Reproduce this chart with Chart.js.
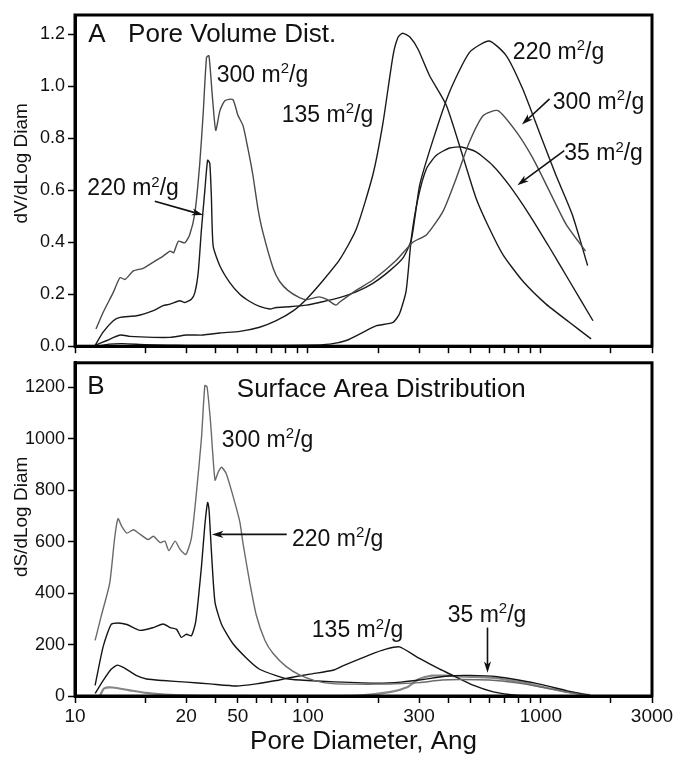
<!DOCTYPE html>
<html>
<head>
<meta charset="utf-8">
<script src="https://cdn.jsdelivr.net/npm/chart.js@4.4.1/dist/chart.umd.min.js"></script>
<style>
  body { margin: 0; background: #fff; }
  #wrap { position: relative; width: 676px; height: 759px; }
  #cA { position: absolute; left: 0; top: 0; }
  #cB { position: absolute; left: 0; top: 349px; }
</style>
</head>
<body>
<div id="wrap">
  <canvas id="cA" width="676" height="360"></canvas>
  <canvas id="cB" width="676" height="410"></canvas>
</div>
<script>
const FONT = '"Liberation Sans", Arial, Helvetica, sans-serif';

// x axis: labelled ticks (as printed) and the rest of the log ticks
const xTickVals = [10, 30, 50, 100, 300, 1000, 3000];
const xTickText = ['10', '20', '50', '100', '300', '1000', '3000'];
const xAllTicks = [10, 20, 30, 40, 50, 60, 70, 80, 90, 100, 200, 300, 400, 500, 600, 700, 800, 900, 1000, 2000, 3000];
const yTicksA = [0, 0.2, 0.4, 0.6, 0.8, 1.0, 1.2];
const yTicksB = [0, 200, 400, 600, 800, 1000, 1200];

// ---- A: pore volume, dV/dLog Diam ----
const vol300X = [12.3, 13.2, 14.6, 15.6, 16.4, 17.8, 19.6, 21.7, 23.9, 25.6, 26.5, 27.8, 29.6, 31.1, 32.7, 34.3, 35.5, 36.7, 37.6, 38.9, 40.2, 41.9, 44.0, 47.6, 50.0, 52.6, 55.0, 58.0, 61.0, 64.0, 70.9, 75.5, 82.0, 92.0, 98.5, 105, 112, 120, 132, 137, 161, 190, 239, 282, 323, 380, 433, 494, 566, 654, 785, 925, 1091, 1286, 1555];
const vol300Y = [0.066, 0.13, 0.207, 0.264, 0.257, 0.29, 0.30, 0.324, 0.347, 0.366, 0.36, 0.404, 0.398, 0.43, 0.512, 0.70, 0.895, 1.112, 1.118, 0.959, 0.831, 0.907, 0.945, 0.95, 0.89, 0.85, 0.77, 0.66, 0.53, 0.44, 0.30, 0.25, 0.215, 0.187, 0.179, 0.185, 0.19, 0.181, 0.158, 0.17, 0.215, 0.255, 0.33, 0.40, 0.429, 0.519, 0.646, 0.787, 0.888, 0.907, 0.825, 0.723, 0.595, 0.468, 0.366];

const vol220X = [12.2, 13.2, 14.6, 15.6, 18.4, 21.7, 23.9, 25.6, 28.2, 29.6, 31.6, 32.7, 33.8, 34.9, 36.1, 37.1, 37.9, 38.5, 39.2, 41.9, 46.2, 51, 56.3, 62, 68.6, 73.1, 83.3, 98.5, 115.6, 136.6, 161, 190, 224, 256, 278, 302, 346, 405, 494, 600, 711, 836, 984, 1160, 1365, 1588];
const vol220Y = [0.003, 0.054, 0.098, 0.111, 0.117, 0.137, 0.156, 0.162, 0.175, 0.168, 0.181, 0.206, 0.283, 0.449, 0.601, 0.716, 0.704, 0.576, 0.385, 0.309, 0.245, 0.200, 0.172, 0.153, 0.143, 0.149, 0.152, 0.158, 0.171, 0.187, 0.209, 0.242, 0.29, 0.34, 0.41, 0.621, 0.80, 0.978, 1.131, 1.175, 1.118, 0.99, 0.825, 0.659, 0.506, 0.31];

const vol135X = [12.2, 13.7, 15.6, 17.2, 21.7, 25.6, 30.1, 35.5, 41.9, 51, 62, 73.1, 86.7, 98.5, 115.6, 137, 161, 190, 210, 232, 244, 255, 274, 297, 333, 393, 461, 527, 600, 687, 836, 1053, 1326, 1643];
const vol135Y = [0.003, 0.022, 0.043, 0.038, 0.034, 0.034, 0.043, 0.043, 0.051, 0.057, 0.073, 0.098, 0.137, 0.181, 0.251, 0.334, 0.449, 0.66, 0.86, 1.12, 1.19, 1.205, 1.19, 1.143, 1.041, 0.927, 0.735, 0.57, 0.455, 0.353, 0.251, 0.162, 0.092, 0.028];

const vol35X = [12.5, 14, 16, 20, 25, 30, 40, 60, 98.5, 124, 146, 178, 197, 232, 247, 264, 278, 297, 323, 356, 405, 456, 527, 620, 731, 893, 1091, 1326, 1674];
const vol35Y = [0.0, 0.008, 0.01, 0.006, 0.004, 0.003, 0.003, 0.003, 0.004, 0.008, 0.022, 0.06, 0.079, 0.092, 0.124, 0.213, 0.417, 0.57, 0.684, 0.735, 0.763, 0.767, 0.748, 0.697, 0.62, 0.506, 0.379, 0.251, 0.098];

// ---- B: surface area, dS/dLog Diam ----
const surf300X = [12.2, 13.0, 14.1, 14.8, 15.3, 15.9, 16.7, 17.8, 19.0, 20.6, 21.7, 23.2, 24.3, 25.3, 26.9, 28.2, 29.9, 31.6, 33.2, 34.9, 36.1, 36.9, 38.2, 39.9, 41.2, 42.6, 44.6, 47.7, 51, 52.7, 56.3, 60, 65.4, 70.9, 80.5, 92, 107, 128, 160, 200, 250, 300, 376, 450, 600, 800, 1000, 1300, 1650];
const surf300Y = [216, 315, 440, 614, 689, 658, 633, 646, 629, 608, 621, 596, 602, 565, 602, 571, 550, 614, 789, 1001, 1207, 1201, 1063, 839, 870, 889, 864, 777, 677, 590, 440, 315, 216, 165, 115, 82, 60, 48, 46, 46, 48, 52, 62, 64, 62, 50, 35, 15, 0];

const surf220X = [12.2, 13.2, 14.3, 15.3, 16.7, 19.0, 21.7, 23.9, 25.6, 27.3, 28.6, 30.1, 31.6, 33.0, 34.9, 36.1, 37.1, 37.6, 38.5, 39.9, 42.6, 47.7, 54.5, 62, 73.1, 82.3, 100, 130, 200, 250, 300, 400, 500, 650, 800, 1000, 1300, 1650];
const surf220Y = [41, 191, 278, 284, 278, 255, 266, 280, 266, 259, 228, 240, 234, 290, 502, 665, 752, 727, 565, 365, 278, 203, 147, 104, 79, 66, 60, 55, 50, 54, 62, 78, 80, 75, 62, 45, 20, 0];

const surf135X = [12.2, 13.2, 14.3, 15.2, 16.2, 18.4, 20.3, 23.9, 30.1, 37.9, 49.3, 60, 73.1, 82.3, 102, 128, 142, 184, 216, 247, 300, 368, 421, 515, 625, 761, 1000];
const surf135Y = [10, 60, 104, 120, 110, 79, 66, 60, 54, 47, 39, 47, 60, 70, 85, 100, 118, 160, 182, 191, 147, 104, 79, 41, 16, 4, 0];

const surf35X = [12.8, 13.3, 14.5, 17.2, 20.3, 25.6, 35, 60, 100, 165, 227, 268, 300, 341, 389, 475, 625, 814, 1017, 1286, 1630];
const surf35Y = [0, 29, 33, 22, 12, 4, 1, 0, 0, 2, 16, 35, 66, 79, 79, 75, 70, 54, 35, 16, 4];

const pts = (xs, ys) => xs.map((v, i) => ({x: v, y: ys[i]}));
const line = (xs, ys, color, w) => ({
  data: pts(xs, ys), borderColor: color, borderWidth: w,
  pointRadius: 0, showLine: true, tension: 0.2, fill: false
});

function xScale(labels) {
  return {
    type: 'logarithmic', min: 10, max: 3000,
    afterBuildTicks: s => { s.ticks = xAllTicks.map(v => ({value: v})); },
    afterFit: s => { s.height = labels ? 63 : 11; },
    ticks: {
      autoSkip: false, maxRotation: 0, padding: 2, color: '#111',
      font: {size: 19, family: FONT},
      callback: v => {
        if (!labels) return '';
        const i = xTickVals.indexOf(v);
        return i < 0 ? '' : xTickText[i];
      }
    },
    grid: { drawOnChartArea: false, tickLength: 7, tickColor: '#000', tickWidth: 1.5 },
    border: { color: '#000', width: 3 },
    title: labels
      ? { display: true, text: 'Pore Diameter, Ang', color: '#111', font: {size: 26, family: FONT}, padding: {top: 0, bottom: 2} }
      : { display: false }
  };
}

function yScale(max, ticks, fmt) {
  return {
    min: 0, max,
    afterBuildTicks: s => { s.ticks = ticks.map(v => ({value: v})); },
    afterFit: s => { s.width = 75; },
    ticks: { padding: 3, color: '#111', font: {size: 18, family: FONT}, callback: fmt },
    grid: { drawOnChartArea: false, tickLength: 7, tickColor: '#000', tickWidth: 1.5 },
    border: { color: '#000', width: 3 }
  };
}

// frame, panel titles, curve labels with m²/g, arrows, y title
function panelPlugin(notes, arrows, ytitle) {
  return {
    id: 'panel',
    afterDraw(ch) {
      const {ctx, chartArea: a, scales: {x, y}} = ch;
      ctx.save();
      ctx.strokeStyle = '#000'; ctx.lineWidth = 3;
      ctx.strokeRect(a.left, a.top, a.right - a.left, a.bottom - a.top);

      ctx.fillStyle = '#111'; ctx.textAlign = 'left'; ctx.textBaseline = 'alphabetic';
      notes.forEach(n => {
        let px = x.getPixelForValue(n.x);
        const py = y.getPixelForValue(n.y);
        ctx.font = `${n.size}px ${FONT}`;
        if (n.unit) {
          const t1 = n.text + ' m';
          ctx.fillText(t1, px, py); px += ctx.measureText(t1).width;
          ctx.font = `${Math.round(n.size * 0.65)}px ${FONT}`;
          ctx.fillText('2', px, py - n.size * 0.38); px += ctx.measureText('2').width;
          ctx.font = `${n.size}px ${FONT}`;
          ctx.fillText('/g', px, py);
        } else {
          ctx.fillText(n.text, px, py);
        }
      });

      ctx.strokeStyle = '#111'; ctx.lineWidth = 1.6;
      arrows.forEach(r => {
        const x0 = x.getPixelForValue(r.x0), y0 = y.getPixelForValue(r.y0);
        const x1 = x.getPixelForValue(r.x1), y1 = y.getPixelForValue(r.y1);
        const ang = Math.atan2(y1 - y0, x1 - x0), h = 12;
        ctx.beginPath(); ctx.moveTo(x0, y0);
        ctx.lineTo(x1 - 6 * Math.cos(ang), y1 - 6 * Math.sin(ang)); ctx.stroke();
        ctx.beginPath();
        ctx.moveTo(x1, y1);
        ctx.lineTo(x1 - h * Math.cos(ang - 0.3), y1 - h * Math.sin(ang - 0.3));
        ctx.lineTo(x1 - h * 0.7 * Math.cos(ang), y1 - h * 0.7 * Math.sin(ang));
        ctx.lineTo(x1 - h * Math.cos(ang + 0.3), y1 - h * Math.sin(ang + 0.3));
        ctx.closePath(); ctx.fill();
      });

      ctx.translate(22, y.getPixelForValue(ytitle.y));
      ctx.rotate(-Math.PI / 2);
      ctx.textAlign = 'center'; ctx.textBaseline = 'middle';
      ctx.font = `19px ${FONT}`;
      ctx.fillText(ytitle.text, 0, 0);
      ctx.restore();
    }
  };
}

const notesA = [
  {x: 11.4, y: 1.17, text: 'A', size: 26},
  {x: 16.9, y: 1.17, text: 'Pore Volume Dist.', size: 26},
  {x: 40.6, y: 1.017, text: '300', unit: true, size: 23},
  {x: 77.2, y: 0.864, text: '135', unit: true, size: 23},
  {x: 11.3, y: 0.581, text: '220', unit: true, size: 23},
  {x: 758, y: 1.105, text: '220', unit: true, size: 23},
  {x: 1125, y: 0.914, text: '300', unit: true, size: 23},
  {x: 1260, y: 0.715, text: '35', unit: true, size: 23}
];
const arrowsA = [
  {x0: 22.0, y0: 0.558, x1: 35.5, y1: 0.505},
  {x0: 1090, y0: 0.952, x1: 829, y1: 0.853},
  {x0: 1260, y0: 0.753, x1: 793, y1: 0.62}
];
const notesB = [
  {x: 11.3, y: 1174, text: 'B', size: 26},
  {x: 49.5, y: 1163, text: 'Surface Area Distribution', size: 26},
  {x: 42.7, y: 969, text: '300', unit: true, size: 23},
  {x: 85.4, y: 583, text: '220', unit: true, size: 23},
  {x: 103.9, y: 228, text: '135', unit: true, size: 23},
  {x: 398, y: 288, text: '35', unit: true, size: 23}
];
const arrowsB = [
  {x0: 81.1, y0: 628, x1: 38.7, y1: 628},
  {x0: 590, y0: 266, x1: 590, y1: 90}
];

const common = {
  responsive: false, animation: false,
  plugins: { legend: { display: false }, tooltip: { enabled: false } }
};

new Chart(document.getElementById('cA'), {
  type: 'scatter',
  data: { datasets: [
    line(vol300X, vol300Y, '#4a4a4a', 1.4),
    line(vol220X, vol220Y, '#1a1a1a', 1.4),
    line(vol135X, vol135Y, '#1a1a1a', 1.4),
    line(vol35X, vol35Y, '#1a1a1a', 1.4)
  ]},
  options: {
    ...common,
    layout: { padding: {top: 15, right: 24, left: 0, bottom: 0} },
    scales: { x: xScale(false), y: yScale(1.275, yTicksA, v => v.toFixed(1)) }
  },
  plugins: [panelPlugin(notesA, arrowsA, {y: 0.704, text: 'dV/dLog Diam'})]
});

new Chart(document.getElementById('cB'), {
  type: 'scatter',
  data: { datasets: [
    line(surf300X, surf300Y, '#6a6a6a', 1.4),
    line(surf220X, surf220Y, '#151515', 1.4),
    line(surf135X, surf135Y, '#151515', 1.4),
    line(surf35X, surf35Y, '#858585', 2.2)
  ]},
  options: {
    ...common,
    layout: { padding: {top: 0, right: 24, left: 0, bottom: 0} },
    scales: { x: xScale(true), y: yScale(1295, yTicksB, v => String(v)) }
  },
  plugins: [panelPlugin(notesB, arrowsB, {y: 696, text: 'dS/dLog Diam'})]
});
</script>
</body>
</html>
